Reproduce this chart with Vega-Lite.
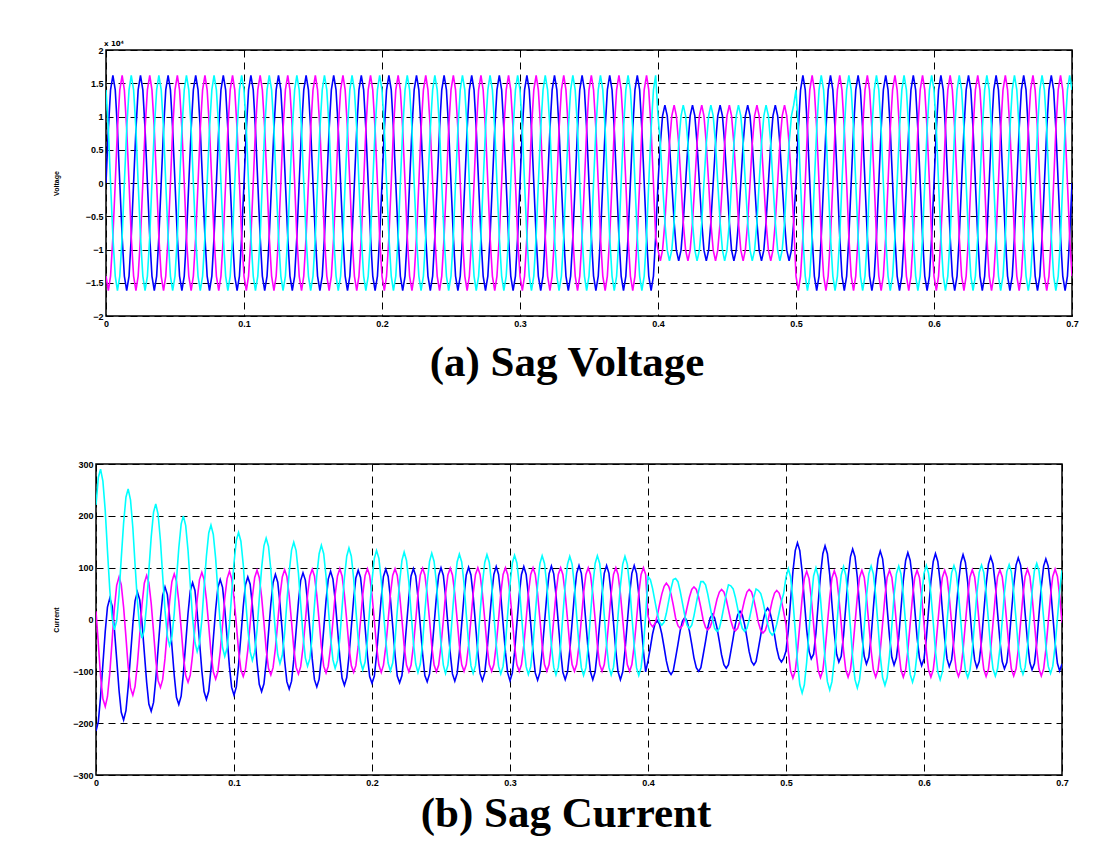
{
"$schema":"https://vega.github.io/schema/vega-lite/v6.json",
"background":"white",
"padding":{"left":50,"top":39,"right":5,"bottom":5},
"spacing":73,
"config":{
"view":{"stroke":"#000","strokeWidth":1.5},
"axis":{"domain":false,"ticks":false,"grid":true,"gridColor":"#000","gridDash":[7,5],"gridWidth":1,"gridOpacity":1,"labelFont":"Liberation Sans","labelFontSize":9,"labelFontWeight":"bold","labelColor":"#000","labelPadding":3,"labelOverlap":false,"labelFlush":false,"titleFont":"Liberation Sans","titleFontSize":7,"titleFontWeight":"bold","titleColor":"#000"},
"title":{"font":"Liberation Serif","fontSize":43,"fontWeight":"bold","color":"#000"}
},
"datasets":{"sig":[
{"t":0,"a":0,"b":-1.4,"c":1.4,"ia":-215,"ib":16,"ic":221},
{"t":0.0017,"a":0.81,"b":-1.62,"c":0.81,"ia":-197,"ib":-47,"ic":274},
{"t":0.0033,"a":1.4,"b":-1.4,"c":0,"ia":-149,"ib":-109,"ic":290},
{"t":0.005,"a":1.62,"b":-0.81,"c":-0.81,"ia":-86,"ib":-153,"ic":267},
{"t":0.0067,"a":1.4,"b":0,"c":-1.4,"ia":-23,"ib":-168,"ic":210},
{"t":0.0083,"a":0.81,"b":0.81,"c":-1.62,"ia":24,"ib":-149,"ic":133},
{"t":0.01,"a":0,"b":1.4,"c":-1.4,"ia":41,"ib":-103,"ic":57},
{"t":0.0117,"a":-0.81,"b":1.62,"c":-0.81,"ia":26,"ib":-40,"ic":2},
{"t":0.0133,"a":-1.4,"b":1.4,"c":0,"ia":-18,"ib":21,"ic":-20},
{"t":0.015,"a":-1.62,"b":0.81,"c":0.81,"ia":-77,"ib":66,"ic":-2},
{"t":0.0167,"a":-1.4,"b":0,"c":1.4,"ia":-137,"ib":82,"ic":49},
{"t":0.0183,"a":-0.81,"b":-0.81,"c":1.62,"ia":-179,"ib":67,"ic":118},
{"t":0.02,"a":0,"b":-1.4,"c":1.4,"ia":-194,"ib":24,"ic":186},
{"t":0.0217,"a":0.81,"b":-1.62,"c":0.81,"ia":-176,"ib":-34,"ic":236},
{"t":0.0233,"a":1.4,"b":-1.4,"c":0,"ia":-131,"ib":-91,"ic":252},
{"t":0.025,"a":1.62,"b":-0.81,"c":-0.81,"ia":-70,"ib":-132,"ic":231},
{"t":0.0267,"a":1.4,"b":0,"c":-1.4,"ia":-9,"ib":-146,"ic":177},
{"t":0.0283,"a":0.81,"b":0.81,"c":-1.62,"ia":36,"ib":-129,"ic":106},
{"t":0.03,"a":0,"b":1.4,"c":-1.4,"ia":53,"ib":-86,"ic":35},
{"t":0.0317,"a":-0.81,"b":1.62,"c":-0.81,"ia":38,"ib":-29,"ic":-17},
{"t":0.0333,"a":-1.4,"b":1.4,"c":0,"ia":-5,"ib":28,"ic":-36},
{"t":0.035,"a":-1.62,"b":0.81,"c":0.81,"ia":-63,"ib":70,"ic":-20},
{"t":0.0367,"a":-1.4,"b":0,"c":1.4,"ia":-121,"ib":85,"ic":29},
{"t":0.0383,"a":-0.81,"b":-0.81,"c":1.62,"ia":-163,"ib":71,"ic":94},
{"t":0.04,"a":0,"b":-1.4,"c":1.4,"ia":-177,"ib":31,"ic":159},
{"t":0.0417,"a":0.81,"b":-1.62,"c":0.81,"ia":-160,"ib":-24,"ic":207},
{"t":0.0433,"a":1.4,"b":-1.4,"c":0,"ia":-116,"ib":-78,"ic":223},
{"t":0.045,"a":1.62,"b":-0.81,"c":-0.81,"ia":-57,"ib":-118,"ic":203},
{"t":0.0467,"a":1.4,"b":0,"c":-1.4,"ia":3,"ib":-131,"ic":152},
{"t":0.0483,"a":0.81,"b":0.81,"c":-1.62,"ia":46,"ib":-116,"ic":85},
{"t":0.05,"a":0,"b":1.4,"c":-1.4,"ia":63,"ib":-75,"ic":18},
{"t":0.0517,"a":-0.81,"b":1.62,"c":-0.81,"ia":48,"ib":-21,"ic":-32},
{"t":0.0533,"a":-1.4,"b":1.4,"c":0,"ia":6,"ib":34,"ic":-50},
{"t":0.055,"a":-1.62,"b":0.81,"c":0.81,"ia":-51,"ib":73,"ic":-34},
{"t":0.0567,"a":-1.4,"b":0,"c":1.4,"ia":-108,"ib":88,"ic":12},
{"t":0.0583,"a":-0.81,"b":-0.81,"c":1.62,"ia":-150,"ib":74,"ic":76},
{"t":0.06,"a":0,"b":-1.4,"c":1.4,"ia":-164,"ib":35,"ic":138},
{"t":0.0617,"a":0.81,"b":-1.62,"c":0.81,"ia":-148,"ib":-17,"ic":184},
{"t":0.0633,"a":1.4,"b":-1.4,"c":0,"ia":-105,"ib":-70,"ic":200},
{"t":0.065,"a":1.62,"b":-0.81,"c":-0.81,"ia":-46,"ib":-108,"ic":181},
{"t":0.0667,"a":1.4,"b":0,"c":-1.4,"ia":12,"ib":-121,"ic":133},
{"t":0.0683,"a":0.81,"b":0.81,"c":-1.62,"ia":55,"ib":-107,"ic":68},
{"t":0.07,"a":0,"b":1.4,"c":-1.4,"ia":71,"ib":-68,"ic":3},
{"t":0.0717,"a":-0.81,"b":1.62,"c":-0.81,"ia":56,"ib":-15,"ic":-44},
{"t":0.0733,"a":-1.4,"b":1.4,"c":0,"ia":14,"ib":38,"ic":-62},
{"t":0.075,"a":-1.62,"b":0.81,"c":0.81,"ia":-42,"ib":77,"ic":-46},
{"t":0.0767,"a":-1.4,"b":0,"c":1.4,"ia":-99,"ib":91,"ic":-1},
{"t":0.0783,"a":-0.81,"b":-0.81,"c":1.62,"ia":-139,"ib":77,"ic":61},
{"t":0.08,"a":0,"b":-1.4,"c":1.4,"ia":-154,"ib":39,"ic":122},
{"t":0.0817,"a":0.81,"b":-1.62,"c":0.81,"ia":-138,"ib":-12,"ic":167},
{"t":0.0833,"a":1.4,"b":-1.4,"c":0,"ia":-96,"ib":-64,"ic":182},
{"t":0.085,"a":1.62,"b":-0.81,"c":-0.81,"ia":-38,"ib":-101,"ic":164},
{"t":0.0867,"a":1.4,"b":0,"c":-1.4,"ia":19,"ib":-115,"ic":118},
{"t":0.0883,"a":0.81,"b":0.81,"c":-1.62,"ia":61,"ib":-101,"ic":55},
{"t":0.09,"a":0,"b":1.4,"c":-1.4,"ia":77,"ib":-62,"ic":-8},
{"t":0.0917,"a":-0.81,"b":1.62,"c":-0.81,"ia":62,"ib":-11,"ic":-54},
{"t":0.0933,"a":-1.4,"b":1.4,"c":0,"ia":21,"ib":41,"ic":-71},
{"t":0.095,"a":-1.62,"b":0.81,"c":0.81,"ia":-35,"ib":79,"ic":-55},
{"t":0.0967,"a":-1.4,"b":0,"c":1.4,"ia":-91,"ib":93,"ic":-11},
{"t":0.0983,"a":-0.81,"b":-0.81,"c":1.62,"ia":-131,"ib":79,"ic":49},
{"t":0.1,"a":0,"b":-1.4,"c":1.4,"ia":-146,"ib":42,"ic":109},
{"t":0.1017,"a":0.81,"b":-1.62,"c":0.81,"ia":-130,"ib":-9,"ic":153},
{"t":0.1033,"a":1.4,"b":-1.4,"c":0,"ia":-88,"ib":-60,"ic":168},
{"t":0.105,"a":1.62,"b":-0.81,"c":-0.81,"ia":-32,"ib":-97,"ic":151},
{"t":0.1067,"a":1.4,"b":0,"c":-1.4,"ia":25,"ib":-110,"ic":106},
{"t":0.1083,"a":0.81,"b":0.81,"c":-1.62,"ia":67,"ib":-96,"ic":44},
{"t":0.11,"a":0,"b":1.4,"c":-1.4,"ia":82,"ib":-59,"ic":-17},
{"t":0.1117,"a":-0.81,"b":1.62,"c":-0.81,"ia":68,"ib":-8,"ic":-62},
{"t":0.1133,"a":-1.4,"b":1.4,"c":0,"ia":27,"ib":43,"ic":-79},
{"t":0.115,"a":-1.62,"b":0.81,"c":0.81,"ia":-29,"ib":81,"ic":-63},
{"t":0.1167,"a":-1.4,"b":0,"c":1.4,"ia":-84,"ib":95,"ic":-20},
{"t":0.1183,"a":-0.81,"b":-0.81,"c":1.62,"ia":-125,"ib":81,"ic":40},
{"t":0.12,"a":0,"b":-1.4,"c":1.4,"ia":-139,"ib":44,"ic":99},
{"t":0.1217,"a":0.81,"b":-1.62,"c":0.81,"ia":-124,"ib":-6,"ic":142},
{"t":0.1233,"a":1.4,"b":-1.4,"c":0,"ia":-83,"ib":-57,"ic":157},
{"t":0.125,"a":1.62,"b":-0.81,"c":-0.81,"ia":-26,"ib":-94,"ic":141},
{"t":0.1267,"a":1.4,"b":0,"c":-1.4,"ia":30,"ib":-107,"ic":96},
{"t":0.1283,"a":0.81,"b":0.81,"c":-1.62,"ia":71,"ib":-93,"ic":36},
{"t":0.13,"a":0,"b":1.4,"c":-1.4,"ia":87,"ib":-56,"ic":-24},
{"t":0.1317,"a":-0.81,"b":1.62,"c":-0.81,"ia":72,"ib":-5,"ic":-68},
{"t":0.1333,"a":-1.4,"b":1.4,"c":0,"ia":31,"ib":45,"ic":-85},
{"t":0.135,"a":-1.62,"b":0.81,"c":0.81,"ia":-24,"ib":82,"ic":-69},
{"t":0.1367,"a":-1.4,"b":0,"c":1.4,"ia":-80,"ib":96,"ic":-26},
{"t":0.1383,"a":-0.81,"b":-0.81,"c":1.62,"ia":-120,"ib":83,"ic":33},
{"t":0.14,"a":0,"b":-1.4,"c":1.4,"ia":-134,"ib":46,"ic":91},
{"t":0.1417,"a":0.81,"b":-1.62,"c":0.81,"ia":-119,"ib":-5,"ic":134},
{"t":0.1433,"a":1.4,"b":-1.4,"c":0,"ia":-78,"ib":-55,"ic":149},
{"t":0.145,"a":1.62,"b":-0.81,"c":-0.81,"ia":-22,"ib":-92,"ic":133},
{"t":0.1467,"a":1.4,"b":0,"c":-1.4,"ia":34,"ib":-105,"ic":89},
{"t":0.1483,"a":0.81,"b":0.81,"c":-1.62,"ia":75,"ib":-91,"ic":30},
{"t":0.15,"a":0,"b":1.4,"c":-1.4,"ia":90,"ib":-54,"ic":-30},
{"t":0.1517,"a":-0.81,"b":1.62,"c":-0.81,"ia":76,"ib":-4,"ic":-74},
{"t":0.1533,"a":-1.4,"b":1.4,"c":0,"ia":35,"ib":47,"ic":-90},
{"t":0.155,"a":-1.62,"b":0.81,"c":0.81,"ia":-20,"ib":84,"ic":-75},
{"t":0.1567,"a":-1.4,"b":0,"c":1.4,"ia":-76,"ib":97,"ic":-32},
{"t":0.1583,"a":-0.81,"b":-0.81,"c":1.62,"ia":-116,"ib":84,"ic":27},
{"t":0.16,"a":0,"b":-1.4,"c":1.4,"ia":-130,"ib":47,"ic":85},
{"t":0.1617,"a":0.81,"b":-1.62,"c":0.81,"ia":-115,"ib":-3,"ic":127},
{"t":0.1633,"a":1.4,"b":-1.4,"c":0,"ia":-74,"ib":-53,"ic":143},
{"t":0.165,"a":1.62,"b":-0.81,"c":-0.81,"ia":-19,"ib":-90,"ic":127},
{"t":0.1667,"a":1.4,"b":0,"c":-1.4,"ia":37,"ib":-103,"ic":83},
{"t":0.1683,"a":0.81,"b":0.81,"c":-1.62,"ia":78,"ib":-90,"ic":24},
{"t":0.17,"a":0,"b":1.4,"c":-1.4,"ia":93,"ib":-53,"ic":-35},
{"t":0.1717,"a":-0.81,"b":1.62,"c":-0.81,"ia":78,"ib":-3,"ic":-78},
{"t":0.1733,"a":-1.4,"b":1.4,"c":0,"ia":38,"ib":48,"ic":-94},
{"t":0.175,"a":-1.62,"b":0.81,"c":0.81,"ia":-17,"ib":84,"ic":-79},
{"t":0.1767,"a":-1.4,"b":0,"c":1.4,"ia":-73,"ib":98,"ic":-36},
{"t":0.1783,"a":-0.81,"b":-0.81,"c":1.62,"ia":-113,"ib":84,"ic":22},
{"t":0.18,"a":0,"b":-1.4,"c":1.4,"ia":-127,"ib":48,"ic":80},
{"t":0.1817,"a":0.81,"b":-1.62,"c":0.81,"ia":-112,"ib":-2,"ic":122},
{"t":0.1833,"a":1.4,"b":-1.4,"c":0,"ia":-71,"ib":-52,"ic":138},
{"t":0.185,"a":1.62,"b":-0.81,"c":-0.81,"ia":-16,"ib":-89,"ic":122},
{"t":0.1867,"a":1.4,"b":0,"c":-1.4,"ia":40,"ib":-102,"ic":79},
{"t":0.1883,"a":0.81,"b":0.81,"c":-1.62,"ia":80,"ib":-89,"ic":20},
{"t":0.19,"a":0,"b":1.4,"c":-1.4,"ia":95,"ib":-52,"ic":-38},
{"t":0.1917,"a":-0.81,"b":1.62,"c":-0.81,"ia":81,"ib":-2,"ic":-81},
{"t":0.1933,"a":-1.4,"b":1.4,"c":0,"ia":40,"ib":48,"ic":-97},
{"t":0.195,"a":-1.62,"b":0.81,"c":0.81,"ia":-15,"ib":85,"ic":-82},
{"t":0.1967,"a":-1.4,"b":0,"c":1.4,"ia":-70,"ib":98,"ic":-39},
{"t":0.1983,"a":-0.81,"b":-0.81,"c":1.62,"ia":-110,"ib":85,"ic":19},
{"t":0.2,"a":0,"b":-1.4,"c":1.4,"ia":-123,"ib":48,"ic":75},
{"t":0.2017,"a":0.81,"b":-1.62,"c":0.81,"ia":-109,"ib":-2,"ic":118},
{"t":0.2033,"a":1.4,"b":-1.4,"c":0,"ia":-68,"ib":-52,"ic":133},
{"t":0.205,"a":1.62,"b":-0.81,"c":-0.81,"ia":-13,"ib":-88,"ic":118},
{"t":0.2067,"a":1.4,"b":0,"c":-1.4,"ia":42,"ib":-102,"ic":75},
{"t":0.2083,"a":0.81,"b":0.81,"c":-1.62,"ia":83,"ib":-88,"ic":17},
{"t":0.21,"a":0,"b":1.4,"c":-1.4,"ia":97,"ib":-52,"ic":-41},
{"t":0.2117,"a":-0.81,"b":1.62,"c":-0.81,"ia":83,"ib":-2,"ic":-84},
{"t":0.2133,"a":-1.4,"b":1.4,"c":0,"ia":42,"ib":48,"ic":-99},
{"t":0.215,"a":-1.62,"b":0.81,"c":0.81,"ia":-13,"ib":85,"ic":-84},
{"t":0.2167,"a":-1.4,"b":0,"c":1.4,"ia":-68,"ib":98,"ic":-41},
{"t":0.2183,"a":-0.81,"b":-0.81,"c":1.62,"ia":-109,"ib":85,"ic":17},
{"t":0.22,"a":0,"b":-1.4,"c":1.4,"ia":-122,"ib":49,"ic":72},
{"t":0.2217,"a":0.81,"b":-1.62,"c":0.81,"ia":-108,"ib":-1,"ic":114},
{"t":0.2233,"a":1.4,"b":-1.4,"c":0,"ia":-67,"ib":-51,"ic":130},
{"t":0.225,"a":1.62,"b":-0.81,"c":-0.81,"ia":-12,"ib":-88,"ic":114},
{"t":0.2267,"a":1.4,"b":0,"c":-1.4,"ia":43,"ib":-101,"ic":72},
{"t":0.2283,"a":0.81,"b":0.81,"c":-1.62,"ia":84,"ib":-88,"ic":14},
{"t":0.23,"a":0,"b":1.4,"c":-1.4,"ia":98,"ib":-51,"ic":-44},
{"t":0.2317,"a":-0.81,"b":1.62,"c":-0.81,"ia":84,"ib":-1,"ic":-86},
{"t":0.2333,"a":-1.4,"b":1.4,"c":0,"ia":43,"ib":49,"ic":-102},
{"t":0.235,"a":-1.62,"b":0.81,"c":0.81,"ia":-12,"ib":86,"ic":-86},
{"t":0.2367,"a":-1.4,"b":0,"c":1.4,"ia":-67,"ib":99,"ic":-44},
{"t":0.2383,"a":-0.81,"b":-0.81,"c":1.62,"ia":-108,"ib":86,"ic":14},
{"t":0.24,"a":0,"b":-1.4,"c":1.4,"ia":-120,"ib":49,"ic":70},
{"t":0.2417,"a":0.81,"b":-1.62,"c":0.81,"ia":-105,"ib":-1,"ic":112},
{"t":0.2433,"a":1.4,"b":-1.4,"c":0,"ia":-65,"ib":-51,"ic":128},
{"t":0.245,"a":1.62,"b":-0.81,"c":-0.81,"ia":-10,"ib":-88,"ic":112},
{"t":0.2467,"a":1.4,"b":0,"c":-1.4,"ia":45,"ib":-101,"ic":70},
{"t":0.2483,"a":0.81,"b":0.81,"c":-1.62,"ia":85,"ib":-88,"ic":12},
{"t":0.25,"a":0,"b":1.4,"c":-1.4,"ia":100,"ib":-51,"ic":-46},
{"t":0.2517,"a":-0.81,"b":1.62,"c":-0.81,"ia":85,"ib":-1,"ic":-88},
{"t":0.2533,"a":-1.4,"b":1.4,"c":0,"ia":45,"ib":49,"ic":-104},
{"t":0.255,"a":-1.62,"b":0.81,"c":0.81,"ia":-10,"ib":86,"ic":-88},
{"t":0.2567,"a":-1.4,"b":0,"c":1.4,"ia":-65,"ib":99,"ic":-46},
{"t":0.2583,"a":-0.81,"b":-0.81,"c":1.62,"ia":-105,"ib":86,"ic":12},
{"t":0.26,"a":0,"b":-1.4,"c":1.4,"ia":-119,"ib":50,"ic":69},
{"t":0.2617,"a":0.81,"b":-1.62,"c":0.81,"ia":-104,"ib":0,"ic":111},
{"t":0.2633,"a":1.4,"b":-1.4,"c":0,"ia":-64,"ib":-50,"ic":126},
{"t":0.265,"a":1.62,"b":-0.81,"c":-0.81,"ia":-9,"ib":-87,"ic":111},
{"t":0.2667,"a":1.4,"b":0,"c":-1.4,"ia":46,"ib":-100,"ic":69},
{"t":0.2683,"a":0.81,"b":0.81,"c":-1.62,"ia":86,"ib":-87,"ic":11},
{"t":0.27,"a":0,"b":1.4,"c":-1.4,"ia":101,"ib":-50,"ic":-47},
{"t":0.2717,"a":-0.81,"b":1.62,"c":-0.81,"ia":86,"ib":0,"ic":-89},
{"t":0.2733,"a":-1.4,"b":1.4,"c":0,"ia":46,"ib":50,"ic":-104},
{"t":0.275,"a":-1.62,"b":0.81,"c":0.81,"ia":-9,"ib":87,"ic":-89},
{"t":0.2767,"a":-1.4,"b":0,"c":1.4,"ia":-64,"ib":100,"ic":-47},
{"t":0.2783,"a":-0.81,"b":-0.81,"c":1.62,"ia":-104,"ib":87,"ic":11},
{"t":0.28,"a":0,"b":-1.4,"c":1.4,"ia":-118,"ib":50,"ic":68},
{"t":0.2817,"a":0.81,"b":-1.62,"c":0.81,"ia":-103,"ib":0,"ic":110},
{"t":0.2833,"a":1.4,"b":-1.4,"c":0,"ia":-63,"ib":-50,"ic":125},
{"t":0.285,"a":1.62,"b":-0.81,"c":-0.81,"ia":-8,"ib":-87,"ic":110},
{"t":0.2867,"a":1.4,"b":0,"c":-1.4,"ia":47,"ib":-100,"ic":68},
{"t":0.2883,"a":0.81,"b":0.81,"c":-1.62,"ia":87,"ib":-87,"ic":10},
{"t":0.29,"a":0,"b":1.4,"c":-1.4,"ia":102,"ib":-50,"ic":-48},
{"t":0.2917,"a":-0.81,"b":1.62,"c":-0.81,"ia":87,"ib":0,"ic":-90},
{"t":0.2933,"a":-1.4,"b":1.4,"c":0,"ia":47,"ib":50,"ic":-105},
{"t":0.295,"a":-1.62,"b":0.81,"c":0.81,"ia":-8,"ib":87,"ic":-90},
{"t":0.2967,"a":-1.4,"b":0,"c":1.4,"ia":-63,"ib":100,"ic":-48},
{"t":0.2983,"a":-0.81,"b":-0.81,"c":1.62,"ia":-103,"ib":87,"ic":10},
{"t":0.3,"a":0,"b":-1.4,"c":1.4,"ia":-118,"ib":50,"ic":67},
{"t":0.3017,"a":0.81,"b":-1.62,"c":0.81,"ia":-103,"ib":0,"ic":109},
{"t":0.3033,"a":1.4,"b":-1.4,"c":0,"ia":-63,"ib":-50,"ic":124},
{"t":0.305,"a":1.62,"b":-0.81,"c":-0.81,"ia":-8,"ib":-87,"ic":109},
{"t":0.3067,"a":1.4,"b":0,"c":-1.4,"ia":47,"ib":-100,"ic":67},
{"t":0.3083,"a":0.81,"b":0.81,"c":-1.62,"ia":87,"ib":-87,"ic":9},
{"t":0.31,"a":0,"b":1.4,"c":-1.4,"ia":102,"ib":-50,"ic":-49},
{"t":0.3117,"a":-0.81,"b":1.62,"c":-0.81,"ia":87,"ib":0,"ic":-91},
{"t":0.3133,"a":-1.4,"b":1.4,"c":0,"ia":47,"ib":50,"ic":-106},
{"t":0.315,"a":-1.62,"b":0.81,"c":0.81,"ia":-8,"ib":87,"ic":-91},
{"t":0.3167,"a":-1.4,"b":0,"c":1.4,"ia":-63,"ib":100,"ic":-49},
{"t":0.3183,"a":-0.81,"b":-0.81,"c":1.62,"ia":-103,"ib":87,"ic":9},
{"t":0.32,"a":0,"b":-1.4,"c":1.4,"ia":-117,"ib":50,"ic":66},
{"t":0.3217,"a":0.81,"b":-1.62,"c":0.81,"ia":-102,"ib":0,"ic":108},
{"t":0.3233,"a":1.4,"b":-1.4,"c":0,"ia":-62,"ib":-50,"ic":123},
{"t":0.325,"a":1.62,"b":-0.81,"c":-0.81,"ia":-7,"ib":-87,"ic":108},
{"t":0.3267,"a":1.4,"b":0,"c":-1.4,"ia":48,"ib":-100,"ic":66},
{"t":0.3283,"a":0.81,"b":0.81,"c":-1.62,"ia":88,"ib":-87,"ic":8},
{"t":0.33,"a":0,"b":1.4,"c":-1.4,"ia":103,"ib":-50,"ic":-50},
{"t":0.3317,"a":-0.81,"b":1.62,"c":-0.81,"ia":88,"ib":0,"ic":-92},
{"t":0.3333,"a":-1.4,"b":1.4,"c":0,"ia":48,"ib":50,"ic":-107},
{"t":0.335,"a":-1.62,"b":0.81,"c":0.81,"ia":-7,"ib":87,"ic":-92},
{"t":0.3367,"a":-1.4,"b":0,"c":1.4,"ia":-62,"ib":100,"ic":-50},
{"t":0.3383,"a":-0.81,"b":-0.81,"c":1.62,"ia":-102,"ib":87,"ic":8},
{"t":0.34,"a":0,"b":-1.4,"c":1.4,"ia":-116,"ib":50,"ic":65},
{"t":0.3417,"a":0.81,"b":-1.62,"c":0.81,"ia":-101,"ib":0,"ic":107},
{"t":0.3433,"a":1.4,"b":-1.4,"c":0,"ia":-61,"ib":-50,"ic":122},
{"t":0.345,"a":1.62,"b":-0.81,"c":-0.81,"ia":-6,"ib":-87,"ic":107},
{"t":0.3467,"a":1.4,"b":0,"c":-1.4,"ia":49,"ib":-100,"ic":65},
{"t":0.3483,"a":0.81,"b":0.81,"c":-1.62,"ia":89,"ib":-87,"ic":7},
{"t":0.35,"a":0,"b":1.4,"c":-1.4,"ia":104,"ib":-50,"ic":-51},
{"t":0.3517,"a":-0.81,"b":1.62,"c":-0.81,"ia":89,"ib":0,"ic":-93},
{"t":0.3533,"a":-1.4,"b":1.4,"c":0,"ia":49,"ib":50,"ic":-108},
{"t":0.355,"a":-1.62,"b":0.81,"c":0.81,"ia":-6,"ib":87,"ic":-93},
{"t":0.3567,"a":-1.4,"b":0,"c":1.4,"ia":-61,"ib":100,"ic":-51},
{"t":0.3583,"a":-0.81,"b":-0.81,"c":1.62,"ia":-101,"ib":87,"ic":7},
{"t":0.36,"a":0,"b":-1.4,"c":1.4,"ia":-116,"ib":50,"ic":66},
{"t":0.3617,"a":0.81,"b":-1.62,"c":0.81,"ia":-101,"ib":0,"ic":108},
{"t":0.3633,"a":1.4,"b":-1.4,"c":0,"ia":-61,"ib":-50,"ic":123},
{"t":0.365,"a":1.62,"b":-0.81,"c":-0.81,"ia":-6,"ib":-87,"ic":108},
{"t":0.3667,"a":1.4,"b":0,"c":-1.4,"ia":49,"ib":-100,"ic":66},
{"t":0.3683,"a":0.81,"b":0.81,"c":-1.62,"ia":89,"ib":-87,"ic":8},
{"t":0.37,"a":0,"b":1.4,"c":-1.4,"ia":104,"ib":-50,"ic":-50},
{"t":0.3717,"a":-0.81,"b":1.62,"c":-0.81,"ia":89,"ib":0,"ic":-92},
{"t":0.3733,"a":-1.4,"b":1.4,"c":0,"ia":49,"ib":50,"ic":-107},
{"t":0.375,"a":-1.62,"b":0.81,"c":0.81,"ia":-6,"ib":87,"ic":-92},
{"t":0.3767,"a":-1.4,"b":0,"c":1.4,"ia":-61,"ib":100,"ic":-50},
{"t":0.3783,"a":-0.81,"b":-0.81,"c":1.62,"ia":-101,"ib":87,"ic":8},
{"t":0.38,"a":0,"b":-1.4,"c":1.4,"ia":-116,"ib":50,"ic":65},
{"t":0.3817,"a":0.81,"b":-1.62,"c":0.81,"ia":-101,"ib":0,"ic":107},
{"t":0.3833,"a":1.4,"b":-1.4,"c":0,"ia":-61,"ib":-50,"ic":122},
{"t":0.385,"a":1.62,"b":-0.81,"c":-0.81,"ia":-6,"ib":-87,"ic":107},
{"t":0.3867,"a":1.4,"b":0,"c":-1.4,"ia":49,"ib":-100,"ic":65},
{"t":0.3883,"a":0.81,"b":0.81,"c":-1.62,"ia":89,"ib":-87,"ic":7},
{"t":0.39,"a":0,"b":1.4,"c":-1.4,"ia":104,"ib":-50,"ic":-51},
{"t":0.3917,"a":-0.81,"b":1.62,"c":-0.81,"ia":89,"ib":0,"ic":-93},
{"t":0.3933,"a":-1.4,"b":1.4,"c":0,"ia":49,"ib":50,"ic":-108},
{"t":0.395,"a":-1.62,"b":0.81,"c":0.81,"ia":-6,"ib":87,"ic":-93},
{"t":0.3967,"a":-1.4,"b":0,"c":1.4,"ia":-61,"ib":100,"ic":-51},
{"t":0.3983,"a":-0.81,"b":-0.81,"c":1.62,"ia":-101,"ib":87,"ic":7},
{"t":0.4,"a":0,"b":-1.01,"c":1.01,"ia":-80,"ib":7,"ic":83},
{"t":0.4017,"a":0.59,"b":-1.17,"c":0.59,"ia":-54,"ib":-8,"ic":77},
{"t":0.4033,"a":1.01,"b":-1.01,"c":0,"ia":-28,"ib":-14,"ic":60},
{"t":0.405,"a":1.17,"b":-0.59,"c":-0.59,"ia":-9,"ib":-8,"ic":36},
{"t":0.4067,"a":1.01,"b":0,"c":-1.01,"ia":-2,"ib":7,"ic":12},
{"t":0.4083,"a":0.59,"b":0.59,"c":-1.17,"ia":-9,"ib":28,"ic":-5},
{"t":0.41,"a":0,"b":1.01,"c":-1.01,"ia":-28,"ib":49,"ic":-11},
{"t":0.4117,"a":-0.59,"b":1.17,"c":-0.59,"ia":-54,"ib":64,"ic":-5},
{"t":0.4133,"a":-1.01,"b":1.01,"c":0,"ia":-80,"ib":70,"ic":12},
{"t":0.415,"a":-1.17,"b":0.59,"c":0.59,"ia":-99,"ib":64,"ic":36},
{"t":0.4167,"a":-1.01,"b":0,"c":1.01,"ia":-106,"ib":49,"ic":60},
{"t":0.4183,"a":-0.59,"b":-0.59,"c":1.17,"ia":-99,"ib":28,"ic":77},
{"t":0.42,"a":0,"b":-1.01,"c":1.01,"ia":-74,"ib":3,"ic":79},
{"t":0.4217,"a":0.59,"b":-1.17,"c":0.59,"ia":-48,"ib":-12,"ic":73},
{"t":0.4233,"a":1.01,"b":-1.01,"c":0,"ia":-22,"ib":-17,"ic":55},
{"t":0.425,"a":1.17,"b":-0.59,"c":-0.59,"ia":-3,"ib":-12,"ic":31},
{"t":0.4267,"a":1.01,"b":0,"c":-1.01,"ia":4,"ib":3,"ic":7},
{"t":0.4283,"a":0.59,"b":0.59,"c":-1.17,"ia":-3,"ib":23,"ic":-11},
{"t":0.43,"a":0,"b":1.01,"c":-1.01,"ia":-22,"ib":43,"ic":-17},
{"t":0.4317,"a":-0.59,"b":1.17,"c":-0.59,"ia":-48,"ib":58,"ic":-11},
{"t":0.4333,"a":-1.01,"b":1.01,"c":0,"ia":-74,"ib":63,"ic":7},
{"t":0.435,"a":-1.17,"b":0.59,"c":0.59,"ia":-93,"ib":58,"ic":31},
{"t":0.4367,"a":-1.01,"b":0,"c":1.01,"ia":-100,"ib":43,"ic":55},
{"t":0.4383,"a":-0.59,"b":-0.59,"c":1.17,"ia":-93,"ib":23,"ic":73},
{"t":0.44,"a":0,"b":-1.01,"c":1.01,"ia":-68,"ib":-1,"ic":73},
{"t":0.4417,"a":0.59,"b":-1.17,"c":0.59,"ia":-42,"ib":-15,"ic":67},
{"t":0.4433,"a":1.01,"b":-1.01,"c":0,"ia":-16,"ib":-20,"ic":49},
{"t":0.445,"a":1.17,"b":-0.59,"c":-0.59,"ia":3,"ib":-15,"ic":25},
{"t":0.4467,"a":1.01,"b":0,"c":-1.01,"ia":10,"ib":-1,"ic":1},
{"t":0.4483,"a":0.59,"b":0.59,"c":-1.17,"ia":3,"ib":19,"ic":-17},
{"t":0.45,"a":0,"b":1.01,"c":-1.01,"ia":-16,"ib":39,"ic":-23},
{"t":0.4517,"a":-0.59,"b":1.17,"c":-0.59,"ia":-42,"ib":53,"ic":-17},
{"t":0.4533,"a":-1.01,"b":1.01,"c":0,"ia":-68,"ib":58,"ic":1},
{"t":0.455,"a":-1.17,"b":0.59,"c":0.59,"ia":-87,"ib":53,"ic":25},
{"t":0.4567,"a":-1.01,"b":0,"c":1.01,"ia":-94,"ib":39,"ic":49},
{"t":0.4583,"a":-0.59,"b":-0.59,"c":1.17,"ia":-87,"ib":19,"ic":67},
{"t":0.46,"a":0,"b":-1.01,"c":1.01,"ia":-62,"ib":-2,"ic":65},
{"t":0.4617,"a":0.59,"b":-1.17,"c":0.59,"ia":-36,"ib":-17,"ic":59},
{"t":0.4633,"a":1.01,"b":-1.01,"c":0,"ia":-10,"ib":-22,"ic":43},
{"t":0.465,"a":1.17,"b":-0.59,"c":-0.59,"ia":9,"ib":-17,"ic":21},
{"t":0.4667,"a":1.01,"b":0,"c":-1.01,"ia":16,"ib":-2,"ic":-1},
{"t":0.4683,"a":0.59,"b":0.59,"c":-1.17,"ia":9,"ib":18,"ic":-17},
{"t":0.47,"a":0,"b":1.01,"c":-1.01,"ia":-10,"ib":38,"ic":-23},
{"t":0.4717,"a":-0.59,"b":1.17,"c":-0.59,"ia":-36,"ib":53,"ic":-17},
{"t":0.4733,"a":-1.01,"b":1.01,"c":0,"ia":-62,"ib":58,"ic":-1},
{"t":0.475,"a":-1.17,"b":0.59,"c":0.59,"ia":-81,"ib":53,"ic":21},
{"t":0.4767,"a":-1.01,"b":0,"c":1.01,"ia":-88,"ib":38,"ic":43},
{"t":0.4783,"a":-0.59,"b":-0.59,"c":1.17,"ia":-81,"ib":18,"ic":59},
{"t":0.48,"a":0,"b":-1.01,"c":1.01,"ia":-56,"ib":-6,"ic":56},
{"t":0.4817,"a":0.59,"b":-1.17,"c":0.59,"ia":-30,"ib":-21,"ic":50},
{"t":0.4833,"a":1.01,"b":-1.01,"c":0,"ia":-4,"ib":-26,"ic":35},
{"t":0.485,"a":1.17,"b":-0.59,"c":-0.59,"ia":15,"ib":-21,"ic":13},
{"t":0.4867,"a":1.01,"b":0,"c":-1.01,"ia":22,"ib":-6,"ic":-9},
{"t":0.4883,"a":0.59,"b":0.59,"c":-1.17,"ia":15,"ib":15,"ic":-24},
{"t":0.49,"a":0,"b":1.01,"c":-1.01,"ia":-4,"ib":36,"ic":-30},
{"t":0.4917,"a":-0.59,"b":1.17,"c":-0.59,"ia":-30,"ib":51,"ic":-24},
{"t":0.4933,"a":-1.01,"b":1.01,"c":0,"ia":-56,"ib":56,"ic":-9},
{"t":0.495,"a":-1.17,"b":0.59,"c":0.59,"ia":-75,"ib":51,"ic":13},
{"t":0.4967,"a":-1.01,"b":0,"c":1.01,"ia":-82,"ib":36,"ic":35},
{"t":0.4983,"a":-0.59,"b":-0.59,"c":1.17,"ia":-75,"ib":15,"ic":50},
{"t":0.5,"a":0,"b":-1.4,"c":1.4,"ia":-61,"ib":-10,"ic":82},
{"t":0.5017,"a":0.81,"b":-1.62,"c":0.81,"ia":-20,"ib":-62,"ic":98},
{"t":0.5033,"a":1.4,"b":-1.4,"c":0,"ia":36,"ib":-99,"ic":82},
{"t":0.505,"a":1.62,"b":-0.81,"c":-0.81,"ia":92,"ib":-113,"ic":38},
{"t":0.5067,"a":1.4,"b":0,"c":-1.4,"ia":133,"ib":-99,"ic":-22},
{"t":0.5083,"a":0.81,"b":0.81,"c":-1.62,"ia":148,"ib":-62,"ic":-82},
{"t":0.51,"a":0,"b":1.4,"c":-1.4,"ia":133,"ib":-10,"ic":-126},
{"t":0.5117,"a":-0.81,"b":1.62,"c":-0.81,"ia":92,"ib":42,"ic":-142},
{"t":0.5133,"a":-1.4,"b":1.4,"c":0,"ia":36,"ib":79,"ic":-126},
{"t":0.515,"a":-1.62,"b":0.81,"c":0.81,"ia":-20,"ib":93,"ic":-82},
{"t":0.5167,"a":-1.4,"b":0,"c":1.4,"ia":-61,"ib":79,"ic":-22},
{"t":0.5183,"a":-0.81,"b":-0.81,"c":1.62,"ia":-76,"ib":42,"ic":38},
{"t":0.52,"a":0,"b":-1.4,"c":1.4,"ia":-67,"ib":-9,"ic":84},
{"t":0.5217,"a":0.81,"b":-1.62,"c":0.81,"ia":-26,"ib":-61,"ic":100},
{"t":0.5233,"a":1.4,"b":-1.4,"c":0,"ia":30,"ib":-98,"ic":84},
{"t":0.525,"a":1.62,"b":-0.81,"c":-0.81,"ia":86,"ib":-112,"ic":41},
{"t":0.5267,"a":1.4,"b":0,"c":-1.4,"ia":127,"ib":-98,"ic":-18},
{"t":0.5283,"a":0.81,"b":0.81,"c":-1.62,"ia":142,"ib":-61,"ic":-77},
{"t":0.53,"a":0,"b":1.4,"c":-1.4,"ia":127,"ib":-9,"ic":-120},
{"t":0.5317,"a":-0.81,"b":1.62,"c":-0.81,"ia":86,"ib":43,"ic":-136},
{"t":0.5333,"a":-1.4,"b":1.4,"c":0,"ia":30,"ib":80,"ic":-120},
{"t":0.535,"a":-1.62,"b":0.81,"c":0.81,"ia":-26,"ib":94,"ic":-77},
{"t":0.5367,"a":-1.4,"b":0,"c":1.4,"ia":-67,"ib":80,"ic":-18},
{"t":0.5383,"a":-0.81,"b":-0.81,"c":1.62,"ia":-82,"ib":43,"ic":41},
{"t":0.54,"a":0,"b":-1.4,"c":1.4,"ia":-71,"ib":-8,"ic":86},
{"t":0.5417,"a":0.81,"b":-1.62,"c":0.81,"ia":-31,"ib":-60,"ic":102},
{"t":0.5433,"a":1.4,"b":-1.4,"c":0,"ia":25,"ib":-97,"ic":86},
{"t":0.545,"a":1.62,"b":-0.81,"c":-0.81,"ia":81,"ib":-111,"ic":44},
{"t":0.5467,"a":1.4,"b":0,"c":-1.4,"ia":121,"ib":-97,"ic":-15},
{"t":0.5483,"a":0.81,"b":0.81,"c":-1.62,"ia":136,"ib":-60,"ic":-74},
{"t":0.55,"a":0,"b":1.4,"c":-1.4,"ia":121,"ib":-8,"ic":-116},
{"t":0.5517,"a":-0.81,"b":1.62,"c":-0.81,"ia":81,"ib":44,"ic":-132},
{"t":0.5533,"a":-1.4,"b":1.4,"c":0,"ia":25,"ib":81,"ic":-116},
{"t":0.555,"a":-1.62,"b":0.81,"c":0.81,"ia":-31,"ib":95,"ic":-74},
{"t":0.5567,"a":-1.4,"b":0,"c":1.4,"ia":-71,"ib":81,"ic":-15},
{"t":0.5583,"a":-0.81,"b":-0.81,"c":1.62,"ia":-86,"ib":44,"ic":44},
{"t":0.56,"a":0,"b":-1.4,"c":1.4,"ia":-73,"ib":-8,"ic":88},
{"t":0.5617,"a":0.81,"b":-1.62,"c":0.81,"ia":-33,"ib":-60,"ic":103},
{"t":0.5633,"a":1.4,"b":-1.4,"c":0,"ia":22,"ib":-97,"ic":88},
{"t":0.565,"a":1.62,"b":-0.81,"c":-0.81,"ia":77,"ib":-111,"ic":46},
{"t":0.5667,"a":1.4,"b":0,"c":-1.4,"ia":117,"ib":-97,"ic":-12},
{"t":0.5683,"a":0.81,"b":0.81,"c":-1.62,"ia":132,"ib":-60,"ic":-70},
{"t":0.57,"a":0,"b":1.4,"c":-1.4,"ia":117,"ib":-8,"ic":-112},
{"t":0.5717,"a":-0.81,"b":1.62,"c":-0.81,"ia":77,"ib":44,"ic":-127},
{"t":0.5733,"a":-1.4,"b":1.4,"c":0,"ia":22,"ib":81,"ic":-112},
{"t":0.575,"a":-1.62,"b":0.81,"c":0.81,"ia":-33,"ib":95,"ic":-70},
{"t":0.5767,"a":-1.4,"b":0,"c":1.4,"ia":-73,"ib":81,"ic":-12},
{"t":0.5783,"a":-0.81,"b":-0.81,"c":1.62,"ia":-88,"ib":44,"ic":46},
{"t":0.58,"a":0,"b":-1.4,"c":1.4,"ia":-74,"ib":-8,"ic":88},
{"t":0.5817,"a":0.81,"b":-1.62,"c":0.81,"ia":-35,"ib":-60,"ic":103},
{"t":0.5833,"a":1.4,"b":-1.4,"c":0,"ia":20,"ib":-97,"ic":88},
{"t":0.585,"a":1.62,"b":-0.81,"c":-0.81,"ia":75,"ib":-111,"ic":47},
{"t":0.5867,"a":1.4,"b":0,"c":-1.4,"ia":114,"ib":-97,"ic":-9},
{"t":0.5883,"a":0.81,"b":0.81,"c":-1.62,"ia":129,"ib":-60,"ic":-65},
{"t":0.59,"a":0,"b":1.4,"c":-1.4,"ia":114,"ib":-8,"ic":-106},
{"t":0.5917,"a":-0.81,"b":1.62,"c":-0.81,"ia":75,"ib":44,"ic":-121},
{"t":0.5933,"a":-1.4,"b":1.4,"c":0,"ia":20,"ib":81,"ic":-106},
{"t":0.595,"a":-1.62,"b":0.81,"c":0.81,"ia":-35,"ib":95,"ic":-65},
{"t":0.5967,"a":-1.4,"b":0,"c":1.4,"ia":-74,"ib":81,"ic":-9},
{"t":0.5983,"a":-0.81,"b":-0.81,"c":1.62,"ia":-89,"ib":44,"ic":47},
{"t":0.6,"a":0,"b":-1.4,"c":1.4,"ia":-76,"ib":-8,"ic":89},
{"t":0.6017,"a":0.81,"b":-1.62,"c":0.81,"ia":-37,"ib":-60,"ic":104},
{"t":0.6033,"a":1.4,"b":-1.4,"c":0,"ia":18,"ib":-97,"ic":89},
{"t":0.605,"a":1.62,"b":-0.81,"c":-0.81,"ia":73,"ib":-111,"ic":49},
{"t":0.6067,"a":1.4,"b":0,"c":-1.4,"ia":112,"ib":-97,"ic":-6},
{"t":0.6083,"a":0.81,"b":0.81,"c":-1.62,"ia":127,"ib":-60,"ic":-61},
{"t":0.61,"a":0,"b":1.4,"c":-1.4,"ia":112,"ib":-8,"ic":-101},
{"t":0.6117,"a":-0.81,"b":1.62,"c":-0.81,"ia":73,"ib":44,"ic":-116},
{"t":0.6133,"a":-1.4,"b":1.4,"c":0,"ia":18,"ib":81,"ic":-101},
{"t":0.615,"a":-1.62,"b":0.81,"c":0.81,"ia":-37,"ib":95,"ic":-61},
{"t":0.6167,"a":-1.4,"b":0,"c":1.4,"ia":-76,"ib":81,"ic":-6},
{"t":0.6183,"a":-0.81,"b":-0.81,"c":1.62,"ia":-91,"ib":44,"ic":49},
{"t":0.62,"a":0,"b":-1.4,"c":1.4,"ia":-78,"ib":-7,"ic":90},
{"t":0.6217,"a":0.81,"b":-1.62,"c":0.81,"ia":-39,"ib":-59,"ic":104},
{"t":0.6233,"a":1.4,"b":-1.4,"c":0,"ia":16,"ib":-96,"ic":90},
{"t":0.625,"a":1.62,"b":-0.81,"c":-0.81,"ia":71,"ib":-110,"ic":50},
{"t":0.6267,"a":1.4,"b":0,"c":-1.4,"ia":110,"ib":-96,"ic":-4},
{"t":0.6283,"a":0.81,"b":0.81,"c":-1.62,"ia":125,"ib":-59,"ic":-58},
{"t":0.63,"a":0,"b":1.4,"c":-1.4,"ia":110,"ib":-7,"ic":-98},
{"t":0.6317,"a":-0.81,"b":1.62,"c":-0.81,"ia":71,"ib":45,"ic":-112},
{"t":0.6333,"a":-1.4,"b":1.4,"c":0,"ia":16,"ib":82,"ic":-98},
{"t":0.635,"a":-1.62,"b":0.81,"c":0.81,"ia":-39,"ib":96,"ic":-58},
{"t":0.6367,"a":-1.4,"b":0,"c":1.4,"ia":-78,"ib":82,"ic":-4},
{"t":0.6383,"a":-0.81,"b":-0.81,"c":1.62,"ia":-93,"ib":45,"ic":50},
{"t":0.64,"a":0,"b":-1.4,"c":1.4,"ia":-81,"ib":-7,"ic":91},
{"t":0.6417,"a":0.81,"b":-1.62,"c":0.81,"ia":-41,"ib":-59,"ic":105},
{"t":0.6433,"a":1.4,"b":-1.4,"c":0,"ia":13,"ib":-96,"ic":91},
{"t":0.645,"a":1.62,"b":-0.81,"c":-0.81,"ia":67,"ib":-110,"ic":52},
{"t":0.6467,"a":1.4,"b":0,"c":-1.4,"ia":107,"ib":-96,"ic":-2},
{"t":0.6483,"a":0.81,"b":0.81,"c":-1.62,"ia":121,"ib":-59,"ic":-56},
{"t":0.65,"a":0,"b":1.4,"c":-1.4,"ia":107,"ib":-7,"ic":-95},
{"t":0.6517,"a":-0.81,"b":1.62,"c":-0.81,"ia":67,"ib":45,"ic":-109},
{"t":0.6533,"a":-1.4,"b":1.4,"c":0,"ia":13,"ib":82,"ic":-95},
{"t":0.655,"a":-1.62,"b":0.81,"c":0.81,"ia":-41,"ib":96,"ic":-56},
{"t":0.6567,"a":-1.4,"b":0,"c":1.4,"ia":-81,"ib":82,"ic":-2},
{"t":0.6583,"a":-0.81,"b":-0.81,"c":1.62,"ia":-95,"ib":45,"ic":52},
{"t":0.66,"a":0,"b":-1.4,"c":1.4,"ia":-83,"ib":-6,"ic":92},
{"t":0.6617,"a":0.81,"b":-1.62,"c":0.81,"ia":-43,"ib":-58,"ic":106},
{"t":0.6633,"a":1.4,"b":-1.4,"c":0,"ia":11,"ib":-95,"ic":92},
{"t":0.665,"a":1.62,"b":-0.81,"c":-0.81,"ia":65,"ib":-109,"ic":53},
{"t":0.6667,"a":1.4,"b":0,"c":-1.4,"ia":105,"ib":-95,"ic":0},
{"t":0.6683,"a":0.81,"b":0.81,"c":-1.62,"ia":119,"ib":-58,"ic":-53},
{"t":0.67,"a":0,"b":1.4,"c":-1.4,"ia":105,"ib":-6,"ic":-92},
{"t":0.6717,"a":-0.81,"b":1.62,"c":-0.81,"ia":65,"ib":46,"ic":-106},
{"t":0.6733,"a":-1.4,"b":1.4,"c":0,"ia":11,"ib":83,"ic":-92},
{"t":0.675,"a":-1.62,"b":0.81,"c":0.81,"ia":-43,"ib":97,"ic":-53},
{"t":0.6767,"a":-1.4,"b":0,"c":1.4,"ia":-83,"ib":83,"ic":0},
{"t":0.6783,"a":-0.81,"b":-0.81,"c":1.62,"ia":-97,"ib":46,"ic":53},
{"t":0.68,"a":0,"b":-1.4,"c":1.4,"ia":-85,"ib":-6,"ic":94},
{"t":0.6817,"a":0.81,"b":-1.62,"c":0.81,"ia":-45,"ib":-58,"ic":108},
{"t":0.6833,"a":1.4,"b":-1.4,"c":0,"ia":9,"ib":-95,"ic":94},
{"t":0.685,"a":1.62,"b":-0.81,"c":-0.81,"ia":63,"ib":-109,"ic":55},
{"t":0.6867,"a":1.4,"b":0,"c":-1.4,"ia":103,"ib":-95,"ic":2},
{"t":0.6883,"a":0.81,"b":0.81,"c":-1.62,"ia":117,"ib":-58,"ic":-51},
{"t":0.69,"a":0,"b":1.4,"c":-1.4,"ia":103,"ib":-6,"ic":-90},
{"t":0.6917,"a":-0.81,"b":1.62,"c":-0.81,"ia":63,"ib":46,"ic":-104},
{"t":0.6933,"a":-1.4,"b":1.4,"c":0,"ia":9,"ib":83,"ic":-90},
{"t":0.695,"a":-1.62,"b":0.81,"c":0.81,"ia":-45,"ib":97,"ic":-51},
{"t":0.6967,"a":-1.4,"b":0,"c":1.4,"ia":-85,"ib":83,"ic":2},
{"t":0.6983,"a":-0.81,"b":-0.81,"c":1.62,"ia":-99,"ib":46,"ic":55},
{"t":0.7,"a":0,"b":-1.4,"c":1.4,"ia":-86,"ib":-6,"ic":95}
]},
"vconcat":[
{"spacing":0,"hconcat":[
{"width":1,"height":1,"view":{"stroke":null},"data":{"values":[{}]},"mark":{"type":"point","size":0,"opacity":0}},
{
"width":966,"height":266,
"title":{"text":"(a) Sag Voltage","orient":"bottom","offset":14,"dx":-22},
"layer":[
{"data":{"name":"sig"},
"transform":[{"fold":["a","b","c"],"as":["ph","val"]}],
"mark":{"type":"line","strokeWidth":1.6,"clip":true},
"encoding":{
"x":{"field":"t","type":"quantitative","scale":{"domain":[0,0.7],"nice":false,"zero":false},"axis":{"values":[0,0.1,0.2,0.3,0.4,0.5,0.6,0.7],"format":"~g","title":null}},
"y":{"field":"val","type":"quantitative","scale":{"domain":[-2,2],"nice":false},"axis":{"values":[-2,-1.5,-1,-0.5,0,0.5,1,1.5,2],"format":"~g","title":"Voltage","titleX":-47,"titleAngle":-90}},
"color":{"field":"ph","type":"nominal","scale":{"domain":["a","b","c","ia","ib","ic"],"range":["#0000ff","#ff00ff","#00ffff","#0000ff","#ff00ff","#00ffff"]},"legend":null}
}},
{"data":{"values":[{}]},
"mark":{"type":"text","text":"x 10⁴","align":"left","baseline":"bottom","dx":-2,"dy":-3,"font":"DejaVu Sans","fontSize":7,"fontWeight":"bold","color":"#000"},
"encoding":{
"x":{"datum":0,"type":"quantitative","scale":{"domain":[0,0.7],"nice":false,"zero":false},"axis":{"values":[0,0.1,0.2,0.3,0.4,0.5,0.6,0.7],"format":"~g","title":null}},
"y":{"datum":2,"type":"quantitative","scale":{"domain":[-2,2],"nice":false},"axis":{"values":[-2,-1.5,-1,-0.5,0,0.5,1,1.5,2],"format":"~g","title":"Voltage","titleX":-47,"titleAngle":-90}}}}
]
}
]},
{"spacing":0,"hconcat":[
{"width":1,"height":1,"view":{"stroke":null},"data":{"values":[{}]},"mark":{"type":"point","size":0,"opacity":0}},
{
"width":966,"height":311,
"title":{"text":"(b) Sag Current","orient":"bottom","offset":6,"dx":-13},
"data":{"name":"sig"},
"transform":[{"fold":["ia","ib","ic"],"as":["ph","val"]}],
"mark":{"type":"line","strokeWidth":1.6,"clip":true},
"encoding":{
"x":{"field":"t","type":"quantitative","scale":{"domain":[0,0.7],"nice":false,"zero":false},"axis":{"values":[0,0.1,0.2,0.3,0.4,0.5,0.6,0.7],"format":"~g","title":null}},
"y":{"field":"val","type":"quantitative","scale":{"domain":[-300,300],"nice":false},"axis":{"values":[-300,-200,-100,0,100,200,300],"format":"d","title":"Current","titleX":-37,"titleAngle":-90}},
"color":{"field":"ph","type":"nominal","scale":{"domain":["a","b","c","ia","ib","ic"],"range":["#0000ff","#ff00ff","#00ffff","#0000ff","#ff00ff","#00ffff"]},"legend":null}
}
}
]}
]
}
